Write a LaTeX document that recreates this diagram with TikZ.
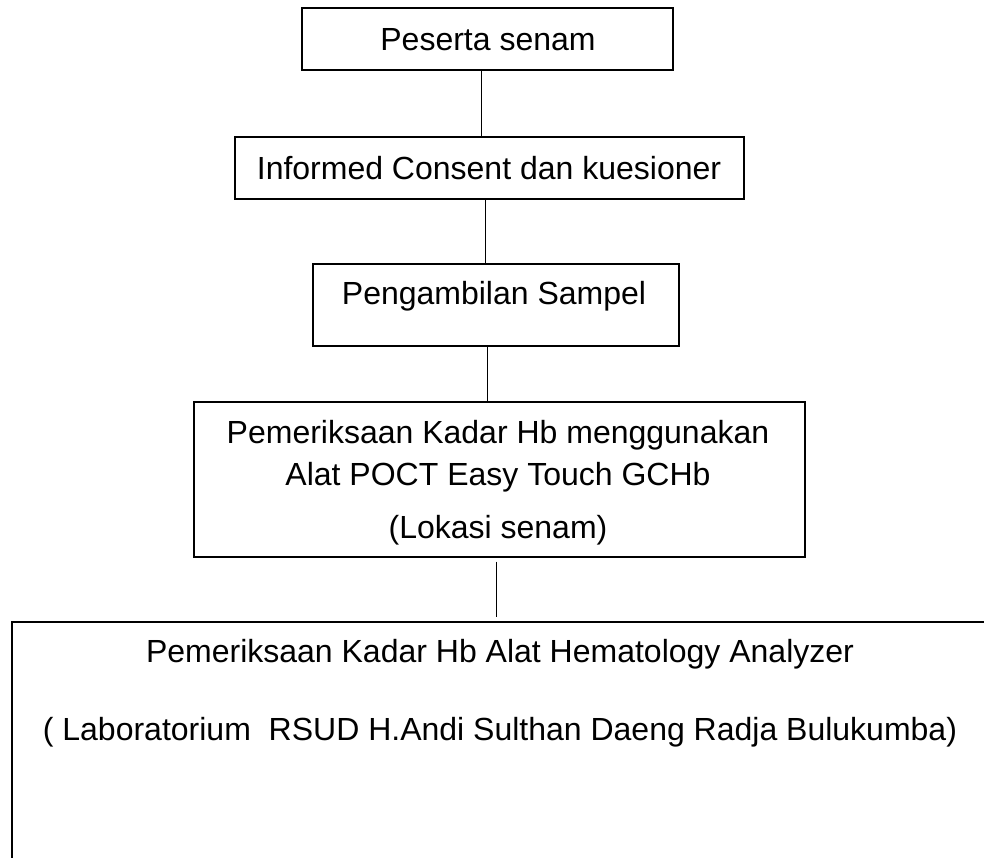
\documentclass[tikz,border=0pt]{standalone}
\usepackage{fontspec}
\setmainfont{Liberation Sans}
\begin{document}
\begin{tikzpicture}[x=1pt,y=-1pt,
  box/.style={draw, line width=1.5pt, inner sep=0pt, anchor=north west},
  lbl/.style={font=\fontsize{32}{38}\selectfont, inner sep=0pt, anchor=base},
  link/.style={line width=1pt}]
\useasboundingbox (0,0) rectangle (984,857);
\clip (-1,-1) rectangle (985,858);
% boxes
\node[box, minimum width=371pt, minimum height=62pt] (b1) at (301,7) {};
\node[box, minimum width=509pt, minimum height=62pt] (b2) at (234,136) {};
\node[box, minimum width=366pt, minimum height=82pt] (b3) at (312,263) {};
\node[box, minimum width=611pt, minimum height=155pt] (b4) at (193,401) {};
\node[box, minimum width=1000pt, minimum height=300pt] (b5) at (11,621) {};
% texts
\node[lbl] (t1) at (488,50) {Peserta senam};
\node[lbl] (t2) at (489,179) {Informed Consent dan kuesioner};
\node[lbl] (t3) at (494,304) {Pengambilan Sampel};
\node[lbl] (t4a) at (498,443) {Pemeriksaan Kadar Hb menggunakan};
\node[lbl] (t4b) at (498,485) {Alat POCT Easy Touch GCHb};
\node[lbl] (t4c) at (498,538) {(Lokasi senam)};
\node[lbl] (t5a) at (500,662) {Pemeriksaan Kadar Hb Alat Hematology Analyzer};
\node[lbl] (t5b) at (500,740) {( Laboratorium\ \ RSUD H.Andi Sulthan Daeng Radja Bulukumba)};
% connectors
\draw[link] ([xshift=-6pt]b1.south) -- ([xshift=-6pt]b1.south |- b2.north);
\draw[link] ([xshift=-4pt]b2.south) -- ([xshift=-4pt]b2.south |- b3.north);
\draw[link] ([xshift=-8pt]b3.south) -- ([xshift=-8pt]b3.south |- b4.north);
\draw[link] ([yshift=-4pt,xshift=-3pt]b4.south) -- ([yshift=4pt,xshift=-3pt]b4.south |- b5.north);
\end{tikzpicture}
\end{document}
